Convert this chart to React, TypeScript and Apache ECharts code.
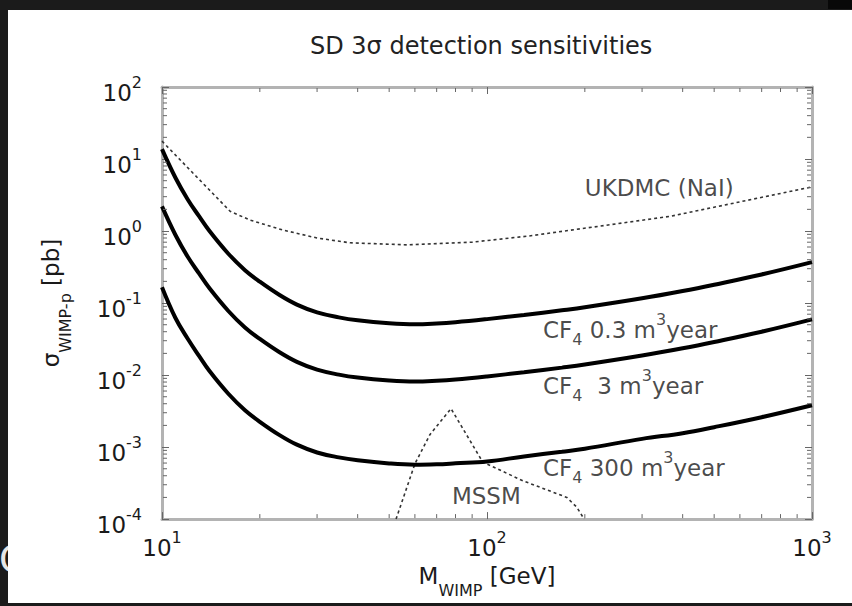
import React, { useEffect, useRef } from "react";
import * as echarts from "echarts";

// ---- data ----
const massGrid = [10, 11, 12, 13, 14, 16, 18, 20, 23, 26, 30, 35, 40, 50, 60, 70, 80, 100, 130, 170, 200, 300, 400, 500, 700, 1000];
// CF4 0.3 m^3 year
const cf4Low = [13.7, 5.49, 2.74, 1.606, 1.0, 0.484, 0.286, 0.1977, 0.1291, 0.0951, 0.0741, 0.0633, 0.0576, 0.0524, 0.0506, 0.0519, 0.0541, 0.0598, 0.0683, 0.0792, 0.0873, 0.1163, 0.1469, 0.1798, 0.2496, 0.37];
// CF4 3 m^3 year
const cf4Mid = [2.196, 0.88, 0.439, 0.2574, 0.1603, 0.0776, 0.0458, 0.0317, 0.0207, 0.01524, 0.01188, 0.01014, 0.00923, 0.0084, 0.00811, 0.00832, 0.00867, 0.00958, 0.01095, 0.01269, 0.01399, 0.01864, 0.02354, 0.02881, 0.04, 0.0593];
// CF4 300 m^3 year
const cf4High = [0.1657, 0.062, 0.0319, 0.01846, 0.01136, 0.0055, 0.00325, 0.002247, 0.001467, 0.00108, 0.000842, 0.000719, 0.000655, 0.000592, 0.000569, 0.000577, 0.000595, 0.00063, 0.000742, 0.000861, 0.000949, 0.0013, 0.00156, 0.00189, 0.0026, 0.00381];
// UKDMC (NaI)
const ukdmcMass = [10, 16.2, 18.7, 23.6, 30, 37.9, 56.7, 90, 135, 366, 1000];
const ukdmcSigma = [17.7, 1.88, 1.415, 1.03, 0.8, 0.686, 0.643, 0.7, 0.855, 1.6, 4.1];
// MSSM region
const mssmMass = [52.5, 60, 66.8, 77.5, 97, 129, 176, 189, 199];
const mssmSigma = [1e-4, 0.000585, 0.0015, 0.00342, 0.00062, 0.00034, 0.0002, 0.000146, 1e-4];

// axis ticks
const xMinorTicks = [20, 30, 40, 50, 60, 70, 80, 90, 200, 300, 400, 500, 600, 700, 800, 900];
const yMinorTicks = [
  2e-4, 3e-4, 4e-4, 5e-4, 6e-4, 7e-4, 8e-4, 9e-4,
  2e-3, 3e-3, 4e-3, 5e-3, 6e-3, 7e-3, 8e-3, 9e-3,
  0.02, 0.03, 0.04, 0.05, 0.06, 0.07, 0.08, 0.09,
  0.2, 0.3, 0.4, 0.5, 0.6, 0.7, 0.8, 0.9,
  2, 3, 4, 5, 6, 7, 8, 9,
  20, 30, 40, 50, 60, 70, 80, 90,
];

// annotation texts and anchors (mass, sigma)
const labelTexts = [
  "{t|UKDMC (NaI)}",
  "{t|CF}{sub|4}{t| 0.3 m}{sup|3}{t|year}",
  "{t|CF}{sub|4}{g|3 m}{sup|3}{t|year}",
  "{t|CF}{sub|4}{t| 300 m}{sup|3}{t|year}",
  "{t|MSSM}",
];
const labelMass = [200, 148.6, 148.6, 148.6, 78];
const labelSigma = [4.0, 0.0427, 0.00706, 0.000515, 0.000207];

const X_MIN = 10, X_MAX = 1000, Y_MIN = 1e-4, Y_MAX = 100;
const FONT = "DejaVu Sans";
const TXT = "#1a1a1a";

const pairs = (xs: number[], ys: number[]) => xs.map((x, i) => [x, ys[i]]);

export default function App() {
  const ref = useRef<HTMLDivElement>(null);
  useEffect(() => {
    if (!ref.current) return;
    const chart = echarts.init(ref.current, undefined, { renderer: "svg" });

    const supLabel = (val: number) => {
      const e = Math.round(Math.log10(val));
      return `{b|10}{s|${e}}`;
    };
    const labelRich = {
      b: { fontSize: 23, fontFamily: FONT, color: TXT, lineHeight: 38 },
      s: { fontSize: 16, fontFamily: FONT, color: TXT, lineHeight: 14, verticalAlign: "top" },
    };
    const axisLineStyle = { color: "#b3b3b3", width: 3 };
    const majorTick = { inside: true, length: 7, lineStyle: { color: "#666", width: 1 } };

    const tickStyle = { stroke: "#666", lineWidth: 1 };
    const curveStyle = { color: "#000", width: 4 };

    const option: any = {
      animation: false,
      backgroundColor: "#ffffff",
      title: {
        text: "SD 3σ detection sensitivities",
        left: 302,
        top: 24,
        padding: 0,
        textStyle: { fontFamily: FONT, fontSize: 24, fontWeight: "normal", color: "#222" },
      },
      grid: { left: 154, right: 40, top: 77, bottom: 78, containLabel: false },
      xAxis: [
        {
          type: "log",
          logBase: 10,
          min: X_MIN,
          max: X_MAX,
          position: "bottom",
          axisLine: { show: true, lineStyle: axisLineStyle },
          axisTick: majorTick,
          splitLine: { show: false },
          axisLabel: { formatter: supLabel, rich: labelRich, margin: 10 },
          name: "{n|M}{sub|WIMP}{n| [GeV]}",
          nameLocation: "middle",
          nameGap: 33,
          nameTextStyle: {
            rich: {
              n: { fontSize: 23, fontFamily: FONT, color: TXT, lineHeight: 44 },
              sub: { fontSize: 16, fontFamily: FONT, color: TXT, lineHeight: 14, verticalAlign: "bottom" },
            },
          },
        },
        {
          type: "log",
          logBase: 10,
          min: X_MIN,
          max: X_MAX,
          position: "top",
          axisLine: { show: true, lineStyle: axisLineStyle },
          axisTick: majorTick,
          splitLine: { show: false },
          axisLabel: { show: false },
        },
      ],
      yAxis: [
        {
          type: "log",
          logBase: 10,
          min: Y_MIN,
          max: Y_MAX,
          splitNumber: 6,
          position: "left",
          axisLine: { show: true, lineStyle: axisLineStyle },
          axisTick: majorTick,
          splitLine: { show: false },
          axisLabel: { formatter: supLabel, rich: labelRich, margin: 20, padding: [12, 0, 0, 0] },
          name: "{n|σ}{sub|WIMP-p}{n| [pb]}",
          nameLocation: "middle",
          nameGap: 89,
          nameTextStyle: {
            rich: {
              n: { fontSize: 23, fontFamily: FONT, color: TXT, lineHeight: 44 },
              sub: { fontSize: 16, fontFamily: FONT, color: TXT, lineHeight: 14, verticalAlign: "bottom" },
            },
          },
        },
        {
          type: "log",
          logBase: 10,
          min: Y_MIN,
          max: Y_MAX,
          splitNumber: 6,
          position: "right",
          axisLine: { show: true, lineStyle: axisLineStyle },
          axisTick: majorTick,
          splitLine: { show: false },
          axisLabel: { show: false },
        },
      ],
      series: [
        {
          name: "UKDMC",
          type: "line",
          data: pairs(ukdmcMass, ukdmcSigma),
          symbol: "none",
          lineStyle: { color: "#333", width: 1.6, type: [3, 3] },
          z: 3,
        },
        {
          name: "MSSM",
          type: "line",
          data: pairs(mssmMass, mssmSigma),
          symbol: "none",
          lineStyle: { color: "#333", width: 1.6, type: [3, 3] },
          z: 3,
        },
        {
          name: "CF4 0.3",
          type: "line",
          data: pairs(massGrid, cf4Low),
          symbol: "none",
          smooth: 0.4,
          lineStyle: curveStyle,
          z: 4,
        },
        {
          name: "CF4 3",
          type: "line",
          data: pairs(massGrid, cf4Mid),
          symbol: "none",
          smooth: 0.4,
          lineStyle: curveStyle,
          z: 4,
        },
        {
          name: "CF4 300",
          type: "line",
          data: pairs(massGrid, cf4High),
          symbol: "none",
          smooth: 0.4,
          lineStyle: curveStyle,
          z: 4,
        },
        {
          name: "labels",
          type: "scatter",
          symbolSize: 0,
          silent: true,
          z: 6,
          data: labelTexts.map((t, i) => ({
            value: [labelMass[i], labelSigma[i]],
            label: { formatter: t },
          })),
          label: {
            show: true,
            position: "right",
            distance: 0,
            rich: {
              t: { fontSize: 23, fontFamily: FONT, color: TXT, lineHeight: 36 },
              g: { fontSize: 23, fontFamily: FONT, color: TXT, lineHeight: 36, padding: [0, 0, 0, 15] },
              sub: { fontSize: 16, fontFamily: FONT, color: TXT, lineHeight: 14, verticalAlign: "bottom" },
              sup: { fontSize: 16, fontFamily: FONT, color: TXT, lineHeight: 14, verticalAlign: "top" },
            },
          },
        },
        {
          name: "xMinor",
          type: "custom",
          silent: true,
          z: 5,
          data: xMinorTicks.map((v) => [v, 1]),
          renderItem: (params: any, api: any) => {
            const v = api.value(0);
            const b = api.coord([v, Y_MIN]);
            const t = api.coord([v, Y_MAX]);
            return {
              type: "group",
              children: [
                { type: "line", shape: { x1: b[0], y1: b[1] - 1, x2: b[0], y2: b[1] - 5 }, style: tickStyle },
                { type: "line", shape: { x1: t[0], y1: t[1] + 1, x2: t[0], y2: t[1] + 5 }, style: tickStyle },
              ],
            };
          },
        },
        {
          name: "yMinor",
          type: "custom",
          silent: true,
          z: 5,
          data: yMinorTicks.map((v) => [X_MIN, v]),
          renderItem: (params: any, api: any) => {
            const v = api.value(1);
            const l = api.coord([X_MIN, v]);
            const r = api.coord([X_MAX, v]);
            return {
              type: "group",
              children: [
                { type: "line", shape: { x1: l[0] + 1, y1: l[1], x2: l[0] + 5, y2: l[1] }, style: tickStyle },
                { type: "line", shape: { x1: r[0] - 1, y1: r[1], x2: r[0] - 5, y2: r[1] }, style: tickStyle },
              ],
            };
          },
        },
      ],
    };
    chart.setOption(option);
    return () => chart.dispose();
  }, []);

  return (
    <div
      style={{
        position: "fixed",
        left: 0,
        top: 0,
        width: 852,
        height: 606,
        background: "#1b1b1b",
        overflow: "hidden",
      }}
    >
      <span
        style={{
          position: "absolute",
          left: -1,
          top: 540,
          fontSize: 38,
          lineHeight: "38px",
          color: "#e6e6e6",
          fontFamily: FONT,
        }}
      >
        C
      </span>
      <div style={{ position: "absolute", left: 828, top: 0, width: 24, height: 9, background: "#080808" }} />
      <div
        ref={ref}
        style={{ position: "absolute", left: 8, top: 10, width: 844, height: 593, background: "#fff" }}
      />
    </div>
  );
}
